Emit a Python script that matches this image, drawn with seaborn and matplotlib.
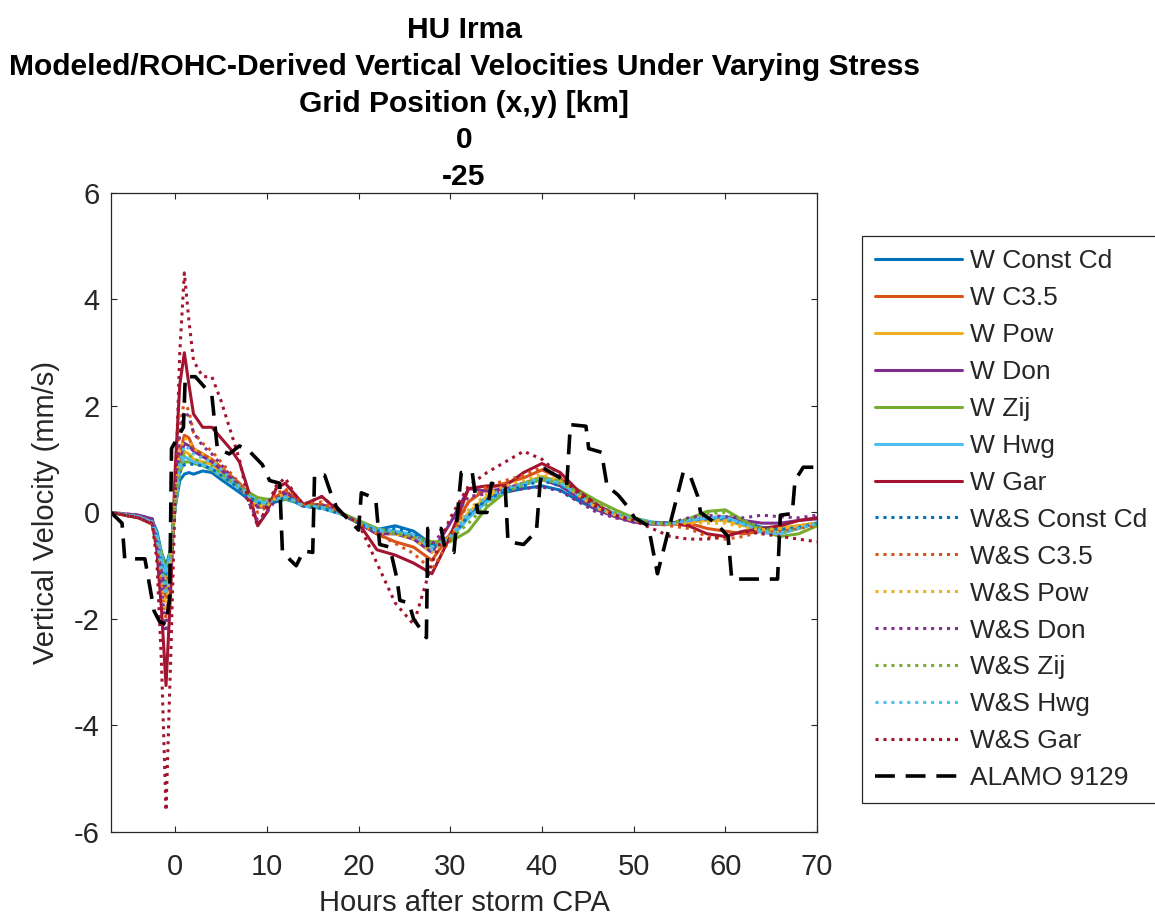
import numpy as np
import pandas as pd
import matplotlib
matplotlib.use("Agg")
import matplotlib.pyplot as plt
import seaborn as sns

# === Data ===
hours = [-7, -4, -2.5, -2, -1.5, -1, -0.5, 0, 0.5, 1, 1.5, 2, 3, 4, 5, 6, 7, 8, 9, 10,
         11, 12, 13, 14, 16, 18, 20, 22, 24, 26, 28, 30, 32, 34, 36, 38, 40, 42, 44, 46,
         48, 50, 52, 54, 56, 58, 60, 62, 64, 66, 68, 70]

w_const_cd = [0, -0.08, -0.15, -0.35, -0.75, -1.0, -0.7, 0.1, 0.6, 0.72, 0.75, 0.72, 0.78, 0.75, 0.62, 0.5, 0.38, 0.25, 0.18, 0.15,
              0.2, 0.25, 0.2, 0.12, 0.08, -0.02, -0.2, -0.32, -0.25, -0.35, -0.6, -0.45, -0.05, 0.25, 0.38, 0.45, 0.5, 0.42, 0.22, 0.05,
              -0.05, -0.15, -0.2, -0.2, -0.15, -0.12, -0.1, -0.18, -0.28, -0.32, -0.28, -0.2]
w_c35 = [0, -0.1, -0.2, -0.5, -1.1, -1.6, -1.0, 0.2, 1.1, 1.45, 1.4, 1.2, 1.1, 1.0, 0.85, 0.7, 0.55, 0.35, 0.1, 0.15,
         0.3, 0.4, 0.3, 0.15, 0.15, 0.0, -0.2, -0.4, -0.55, -0.65, -0.9, -0.4, 0.2, 0.45, 0.55, 0.65, 0.8, 0.65, 0.35, 0.1,
         -0.05, -0.15, -0.2, -0.22, -0.2, -0.3, -0.35, -0.4, -0.35, -0.3, -0.25, -0.2]
w_pow = [0, -0.08, -0.18, -0.45, -0.95, -1.3, -0.8, 0.15, 0.85, 1.15, 1.1, 1.0, 0.95, 0.9, 0.75, 0.6, 0.45, 0.3, 0.15, 0.15,
         0.25, 0.3, 0.25, 0.12, 0.1, -0.02, -0.2, -0.35, -0.35, -0.45, -0.7, -0.45, 0.0, 0.3, 0.45, 0.55, 0.68, 0.55, 0.3, 0.08,
         -0.05, -0.15, -0.2, -0.2, -0.18, -0.15, -0.15, -0.25, -0.3, -0.3, -0.25, -0.2]
w_don = [0, -0.05, -0.12, -0.5, -1.1, -1.5, -0.9, 0.2, 1.0, 1.3, 1.25, 1.15, 1.05, 0.95, 0.8, 0.65, 0.5, 0.3, 0.1, 0.1,
         0.25, 0.35, 0.25, 0.12, 0.12, 0.0, -0.2, -0.4, -0.4, -0.5, -0.75, -0.2, 0.45, 0.4, 0.45, 0.55, 0.62, 0.5, 0.28, 0.05,
         -0.08, -0.18, -0.22, -0.22, -0.15, -0.1, -0.08, -0.15, -0.2, -0.2, -0.15, -0.12]
w_zij = [0, -0.08, -0.2, -0.45, -0.75, -1.1, -0.7, 0.1, 0.75, 0.95, 0.95, 0.92, 0.88, 0.8, 0.68, 0.58, 0.48, 0.38, 0.28, 0.25,
         0.25, 0.25, 0.22, 0.15, 0.1, 0.0, -0.15, -0.3, -0.4, -0.45, -0.55, -0.55, -0.35, 0.1, 0.38, 0.55, 0.65, 0.6, 0.42, 0.22,
         0.05, -0.1, -0.18, -0.22, -0.12, 0.02, 0.05, -0.15, -0.35, -0.45, -0.4, -0.25]
w_hwg = [0, -0.08, -0.18, -0.4, -0.85, -1.15, -0.75, 0.1, 0.8, 1.05, 1.0, 0.95, 0.9, 0.82, 0.7, 0.58, 0.45, 0.32, 0.22, 0.2,
         0.25, 0.28, 0.22, 0.12, 0.08, -0.02, -0.18, -0.32, -0.35, -0.42, -0.65, -0.5, -0.1, 0.2, 0.4, 0.52, 0.62, 0.55, 0.35, 0.12,
         -0.02, -0.12, -0.18, -0.2, -0.15, -0.1, -0.08, -0.22, -0.38, -0.4, -0.3, -0.2]
w_gar = [0, -0.1, -0.22, -0.7, -1.8, -3.25, -1.5, 0.8, 2.4, 3.0, 2.4, 1.85, 1.6, 1.6, 1.4, 1.2, 0.95, 0.4, -0.25, 0.0,
         0.45, 0.55, 0.35, 0.15, 0.3, 0.0, -0.2, -0.7, -0.8, -0.95, -1.15, -0.45, 0.45, 0.5, 0.5, 0.75, 0.92, 0.75, 0.4, 0.15,
         -0.05, -0.15, -0.2, -0.2, -0.25, -0.4, -0.45, -0.35, -0.3, -0.25, -0.15, -0.1]

ws_const_cd = [0, -0.08, -0.15, -0.45, -0.95, -1.3, -0.85, 0.15, 0.75, 0.9, 0.92, 0.9, 0.88, 0.82, 0.7, 0.58, 0.45, 0.3, 0.18, 0.15,
               0.22, 0.28, 0.22, 0.12, 0.08, -0.02, -0.2, -0.35, -0.3, -0.38, -0.65, -0.5, -0.05, 0.25, 0.4, 0.5, 0.6, 0.5, 0.28, 0.08,
               -0.05, -0.15, -0.2, -0.2, -0.15, -0.12, -0.12, -0.22, -0.3, -0.32, -0.28, -0.2]
ws_c35 = [0, -0.1, -0.22, -0.6, -1.4, -2.0, -1.2, 0.4, 1.6, 2.1, 1.9, 1.5, 1.3, 1.15, 0.95, 0.75, 0.55, 0.3, 0.0, 0.1,
          0.35, 0.45, 0.3, 0.15, 0.2, 0.0, -0.2, -0.4, -0.58, -0.77, -1.08, -0.5, 0.2, 0.5, 0.6, 0.7, 0.85, 0.65, 0.35, 0.1,
          -0.05, -0.15, -0.2, -0.25, -0.3, -0.45, -0.5, -0.45, -0.35, -0.35, -0.3, -0.25]
ws_pow = [0, -0.08, -0.18, -0.5, -1.15, -1.8, -1.0, 0.3, 1.15, 1.4, 1.35, 1.2, 1.1, 1.0, 0.85, 0.68, 0.5, 0.32, 0.12, 0.12,
          0.28, 0.35, 0.25, 0.12, 0.12, 0.0, -0.2, -0.38, -0.4, -0.5, -0.75, -0.45, 0.05, 0.35, 0.5, 0.6, 0.72, 0.58, 0.32, 0.08,
          -0.05, -0.15, -0.2, -0.22, -0.2, -0.2, -0.2, -0.28, -0.32, -0.3, -0.25, -0.18]
ws_don = [0, -0.05, -0.12, -0.6, -1.4, -2.25, -1.2, 0.3, 1.5, 1.9, 1.8, 1.5, 1.25, 1.1, 0.9, 0.7, 0.5, 0.2, -0.15, 0.0,
          0.25, 0.4, 0.25, 0.1, 0.15, 0.0, -0.2, -0.4, -0.38, -0.45, -0.6, -0.2, 0.3, 0.35, 0.4, 0.45, 0.48, 0.4, 0.2, 0.0,
          -0.1, -0.18, -0.2, -0.2, -0.1, -0.05, -0.08, -0.1, -0.05, -0.08, -0.1, -0.05]
ws_zij = [0, -0.08, -0.18, -0.5, -0.95, -1.45, -0.9, 0.15, 0.85, 1.1, 1.08, 1.0, 0.95, 0.88, 0.74, 0.6, 0.48, 0.35, 0.22, 0.2,
          0.25, 0.28, 0.22, 0.12, 0.1, 0.0, -0.18, -0.3, -0.38, -0.45, -0.6, -0.5, -0.2, 0.15, 0.38, 0.52, 0.62, 0.55, 0.38, 0.18,
          0.02, -0.12, -0.2, -0.2, -0.12, -0.02, 0.0, -0.15, -0.3, -0.38, -0.3, -0.2]
ws_hwg = [0, -0.08, -0.18, -0.5, -1.05, -1.55, -0.95, 0.2, 0.95, 1.25, 1.2, 1.1, 1.02, 0.95, 0.8, 0.65, 0.5, 0.32, 0.18, 0.18,
          0.25, 0.3, 0.22, 0.12, 0.1, -0.02, -0.2, -0.35, -0.35, -0.42, -0.7, -0.45, 0.0, 0.3, 0.45, 0.55, 0.65, 0.55, 0.32, 0.1,
          -0.04, -0.14, -0.2, -0.22, -0.15, -0.1, -0.1, -0.22, -0.35, -0.38, -0.3, -0.2]
ws_gar = [0, -0.1, -0.2, -0.9, -2.8, -5.6, -2.8, 0.3, 3.0, 4.5, 3.6, 2.85, 2.55, 2.55, 2.1, 1.55, 1.0, 0.2, -0.25, 0.1,
          0.5, 0.65, 0.35, 0.15, 0.3, 0.0, -0.2, -0.95, -1.7, -2.1, -0.95, -0.1, 0.5, 0.75, 0.95, 1.15, 1.0, 0.7, 0.35, 0.1,
          -0.05, -0.15, -0.3, -0.45, -0.5, -0.5, -0.45, -0.35, -0.4, -0.45, -0.5, -0.55]

alamo_hours = [-7, -5.8, -5.5, -3.3, -2.3, -1.7, -1.0, -0.6, -0.4, 0.9, 1.1, 2.2, 4.0, 4.6, 5.9, 7.0, 8.1, 9.5, 10.3, 11.4,
               11.7, 13.2, 14.0, 15.0, 15.2, 16.3, 17.1, 17.6, 20.0, 20.3, 21.3, 21.9, 22.3, 23.4, 24.2, 24.5, 25.5, 26.0, 27.4, 27.55,
               29.0, 29.4, 30.4, 31.2, 32.4, 33.0, 34.0, 34.5, 36.0, 36.3, 38.0, 39.4, 39.8, 40.1, 42.3, 42.7, 43.1, 44.8, 45.1, 46.5,
               47.1, 48.3, 49.4, 50.1, 51.6, 52.6, 55.4, 56.1, 57.0, 57.3, 59.1, 60.3, 60.7, 65.7, 66.0, 67.3, 67.6, 68.5, 70]
alamo_w = [0, -0.2, -0.87, -0.87, -1.85, -2.05, -2.1, -1.6, 1.2, 1.6, 2.55, 2.55, 2.2, 1.2, 1.1, 1.25, 1.15, 0.9, 0.6, 0.55,
           -0.75, -1.0, -0.72, -0.75, 0.7, 0.7, 0.3, 0.1, -0.33, 0.37, 0.3, 0.2, -0.6, -0.65, -1.25, -1.65, -1.7, -2.0, -2.35, -0.3,
           -0.3, -0.65, -0.75, 0.75, 0.75, 0.0, 0.0, 0.55, 0.45, -0.55, -0.6, -0.35, 0.55, 0.84, 0.62, 0.5, 1.65, 1.62, 1.2, 1.13,
           0.5, 0.33, 0.1, -0.1, -0.25, -1.15, 0.75, 0.72, 0.3, 0.0, -0.22, -0.45, -1.25, -1.25, -0.05, -0.02, 0.6, 0.85, 0.85]

labels = ["W Const Cd", "W C3.5", "W Pow", "W Don", "W Zij", "W Hwg", "W Gar",
          "W&S Const Cd", "W&S C3.5", "W&S Pow", "W&S Don", "W&S Zij", "W&S Hwg", "W&S Gar"]
values = [w_const_cd, w_c35, w_pow, w_don, w_zij, w_hwg, w_gar,
          ws_const_cd, ws_c35, ws_pow, ws_don, ws_zij, ws_hwg, ws_gar]
colors = ["#0072BD", "#D95319", "#EDB120", "#7E2F8E", "#77AC30", "#4DBEEE", "#A2142F"] * 2

# === Style ===
sns.set_style("ticks")
plt.rcParams['font.family'] = ['Liberation Sans', 'DejaVu Sans']
plt.rcParams['axes.unicode_minus'] = False

fig = plt.figure(figsize=(11.55, 9.19), dpi=100)
ax = fig.add_axes([111 / 1155, 1 - 832 / 919, 706 / 1155, 639 / 919])

for i, (lab, vals) in enumerate(zip(labels, values)):
    ls = "-" if i < 7 else (0, (1, 1.6))
    sns.lineplot(x=hours, y=vals, ax=ax, color=colors[i], linestyle=ls, lw=2.2, label=lab)

sns.lineplot(x=alamo_hours, y=alamo_w, ax=ax, color="black", linestyle=(0, (5.5, 3)), lw=2.6,
             label="ALAMO 9129")

ax.set_xlim(-7, 70)
ax.set_ylim(-6, 6)
ax.set_xticks(range(0, 71, 10))
ax.set_yticks(range(-6, 7, 2))
ax.tick_params(direction="in", top=True, right=True, length=4, width=0.8,
               labelsize=21, colors="#262626", labelcolor="#262626")
ax.tick_params(axis="x", pad=15)
ax.tick_params(axis="y", pad=8)
for sp in ax.spines.values():
    sp.set_visible(True)
    sp.set_color("#262626")
    sp.set_linewidth(0.9)

ax.set_xlabel("Hours after storm CPA", fontsize=21, color="#262626", labelpad=6)
ax.set_ylabel("Vertical Velocity (mm/s)", fontsize=21, color="#262626", labelpad=10)
ax.set_title("HU Irma\nModeled/ROHC-Derived Vertical Velocities Under Varying Stress\n"
             "Grid Position (x,y) [km]\n0\n-25",
             fontsize=21.6, fontweight="bold", linespacing=1.39, pad=6, color="black")

leg = ax.legend(loc="upper left", bbox_to_anchor=(862 / 1155, 1 - 236 / 919),
                bbox_transform=fig.transFigure, fontsize=19, frameon=True, fancybox=False,
                edgecolor="#262626", framealpha=1, handlelength=3.3, handletextpad=0.3,
                labelspacing=0.49, borderpad=0.5, borderaxespad=0)
leg.get_frame().set_linewidth(0.9)

fig.savefig("out.png", dpi=100)
